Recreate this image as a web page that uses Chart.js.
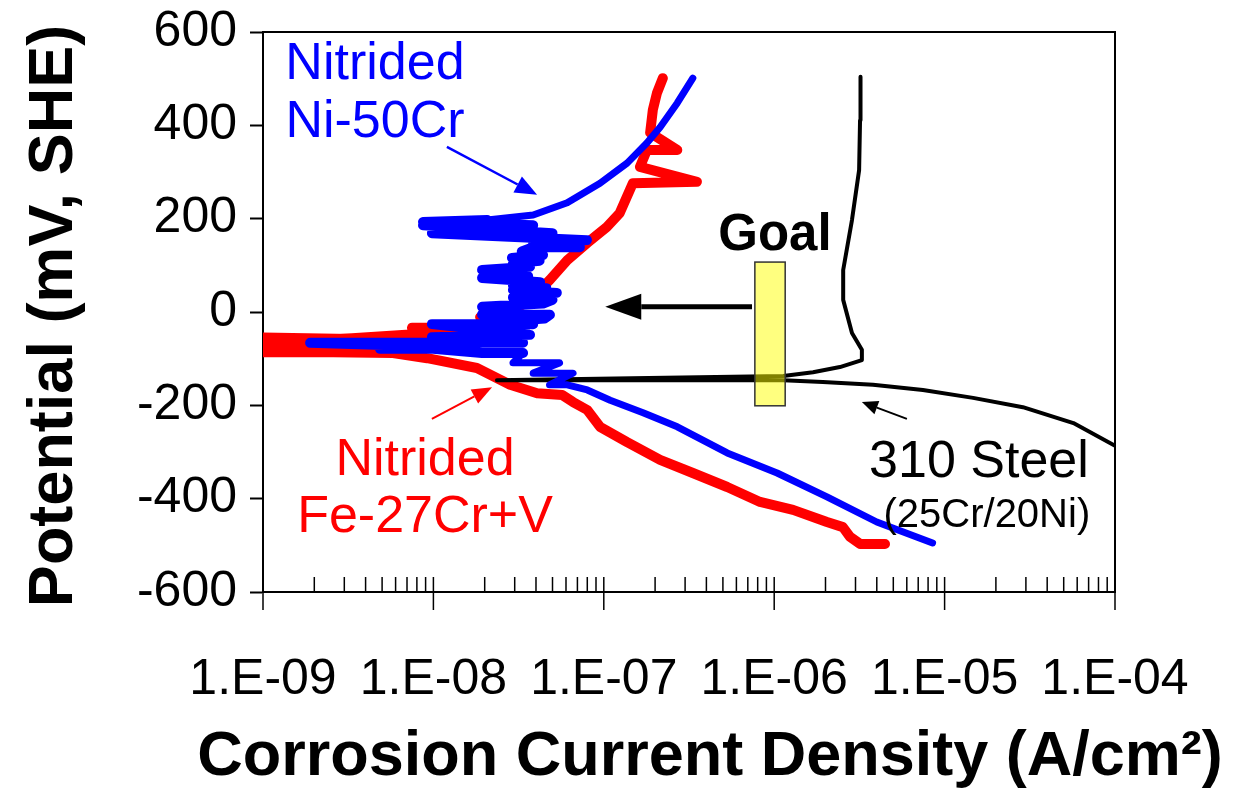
<!DOCTYPE html>
<html>
<head>
<meta charset="utf-8">
<script src="https://cdn.jsdelivr.net/npm/chart.js@4.4.1/dist/chart.umd.min.js"></script>
<style>
    html, body { margin: 0; padding: 0; background: #fff; }
    #wrap { width: 1233px; height: 789px; position: relative; }
</style>
</head>
<body>
<div id="wrap"><canvas id="polarisation"></canvas></div>
<script>
const FONT = '"Liberation Sans", Arial, sans-serif'

// axis ticks
const xTickLabels = ['1.E-09', '1.E-08', '1.E-07', '1.E-06', '1.E-05', '1.E-04']
const xDecades = [1e-9, 1e-8, 1e-7, 1e-6, 1e-5, 1e-4]
const yTickValues = [-600, -400, -200, 0, 200, 400, 600]

// Nitrided Ni-50Cr (blue), scan from cathodic end upwards
const niCrCurrent = [8.5e-6, 4.0e-6, 2.04e-6, 1.04e-6, 5.3e-7, 2.7e-7, 1.7e-7, 1.09e-7, 8.0e-8, 6.1e-8,
    4.8e-8, 6.6e-8, 3.85e-8, 5.5e-8, 2.93e-8, 3.36e-8, 1.93e-8, 9.95e-9, 4.86e-9, 1.25e-8,
    1.89e-9, 3.36e-8, 9.8e-9, 3.69e-8, 9.8e-9, 3.85e-8, 2.93e-8, 4.5e-8, 4.83e-8, 1.93e-8,
    3.3e-8, 2.82e-8, 1.93e-8, 4.4e-8, 5.0e-8, 2.93e-8, 5.3e-8, 2.93e-8, 4.6e-8, 2.93e-8,
    4.23e-8, 1.93e-8, 3.6e-8, 2.93e-8, 1.93e-8, 3.69e-8, 2.93e-8, 4.2e-8, 2.89e-8, 4.4e-8,
    3.3e-8, 3.85e-8, 7.24e-8, 3.85e-8, 7.96e-8, 9.8e-9, 5.0e-8, 8.69e-9, 3.85e-8, 8.69e-9,
    2.07e-8, 3.85e-8, 6.1e-8, 9.5e-8, 1.37e-7, 1.79e-7, 2.14e-7, 2.7e-7, 3.33e-7]
const niCrPotential = [-495, -450, -396, -345, -302, -246, -216, -189, -167, -156,
    -156, -131, -131, -109, -109, -88, -88, -79, -79, -75,
    -66, -66, -54, -49, -26, -26, -19, -14, -6, -6,
    2, 11, 11, 18, 26, 31, 41, 47, 51, 57,
    64, 73, 76, 82, 90, 97, 104, 110, 116, 122,
    130, 139, 139, 147, 154, 169, 169, 186, 186, 193,
    197, 208, 234, 276, 319, 362, 396, 448, 501]

// Nitrided Fe-27Cr+V (red)
const feCrCurrent = [4.47e-6, 3.19e-6, 2.79e-6, 2.53e-6, 2.04e-6, 1.29e-6, 8.26e-7, 5.3e-7, 3.33e-7, 2.14e-7,
    1.37e-7, 9.5e-8, 8.0e-8, 6.6e-8, 5.7e-8, 4.06e-8, 2.82e-8, 1.8e-8, 9.2e-9, 5.79e-9,
    2.58e-9, 8e-10, 8e-10, 7.3e-9, 8e-10, 9.95e-9, 7.49e-9, 2.24e-8, 1.88e-8, 2.93e-8,
    2.82e-8, 3.69e-8, 4.83e-8, 6.1e-8, 8.0e-8, 1.04e-7, 1.24e-7, 1.48e-7, 3.52e-7, 1.63e-7,
    1.79e-7, 2.7e-7, 1.87e-7, 1.94e-7, 2.05e-7, 2.22e-7]
const feCrPotential = [-497, -497, -482, -461, -450, -424, -407, -375, -345, -317,
    -279, -246, -210, -193, -178, -174, -156, -120, -99, -88,
    -86, -86, -54, -60, -71, -45, -34, -34, -11, -11,
    0, 26, 69, 111, 148, 182, 212, 276, 279, 311,
    347, 347, 384, 433, 469, 501]

// 310 Steel (black)
const steelCurrent = [1.03e-4, 5.7e-5, 2.88e-5, 1.47e-5, 7.46e-6, 3.8e-6, 1.93e-6, 1.13e-6, 2.36e-8, 1.13e-6,
    1.69e-6, 2.43e-6, 3.27e-6, 3.27e-6, 2.86e-6, 2.54e-6, 2.54e-6, 2.86e-6, 3.15e-6, 3.19e-6, 3.21e-6]
const steelPotential = [-289, -238, -204, -184, -167, -156, -150, -146, -146, -137,
    -129, -118, -103, -81, -45, 26, 90, 197, 304, 411, 504]

// goal window
const goalCurrent = [7.7e-7, 1.16e-6]
const goalPotential = [-201, 107]

function toPoints(xs, ys) {
    return xs.map((x, i) => ({ x, y: ys[i] }))
}

function arrow(ctx, x1, y1, x2, y2, width, head, half, color) {
    const a = Math.atan2(y2 - y1, x2 - x1)
    const bx = x2 - head * Math.cos(a)
    const by = y2 - head * Math.sin(a)
    ctx.strokeStyle = color
    ctx.fillStyle = color
    ctx.lineWidth = width
    ctx.lineCap = 'butt'
    ctx.beginPath()
    ctx.moveTo(x1, y1)
    ctx.lineTo(bx, by)
    ctx.stroke()
    ctx.beginPath()
    ctx.moveTo(x2, y2)
    ctx.lineTo(bx + half * Math.sin(a), by - half * Math.cos(a))
    ctx.lineTo(bx - half * Math.sin(a), by + half * Math.cos(a))
    ctx.closePath()
    ctx.fill()
}

const extras = {
    id: 'extras',
    afterDatasetsDraw(chart) {
        const { ctx, chartArea: area, scales: { x, y } } = chart
        const px = v => x.getPixelForValue(v)
        const py = v => y.getPixelForValue(v)
        ctx.save()

        // frame top + right
        ctx.strokeStyle = '#000'
        ctx.lineWidth = 2
        ctx.beginPath()
        ctx.moveTo(area.left, area.top)
        ctx.lineTo(area.right, area.top)
        ctx.lineTo(area.right, area.bottom)
        ctx.stroke()

        // log ticks on the x axis
        ctx.lineWidth = 1.5
        xDecades.forEach((d, i) => {
            const xp = px(d)
            ctx.beginPath()
            ctx.moveTo(xp, area.bottom - 15)
            ctx.lineTo(xp, area.bottom + 18)
            ctx.stroke()
            if (i === xDecades.length - 1) return
            for (let m = 2; m <= 9; m++) {
                const xm = px(m * d)
                ctx.beginPath()
                ctx.moveTo(xm, area.bottom - 15)
                ctx.lineTo(xm, area.bottom)
                ctx.stroke()
            }
        })

        // goal box
        const gx = px(goalCurrent[0]), gy = py(goalPotential[1])
        const gw = px(goalCurrent[1]) - gx, gh = py(goalPotential[0]) - gy
        ctx.fillStyle = 'rgba(255,255,0,0.5)'
        ctx.fillRect(gx, gy, gw, gh)
        ctx.strokeStyle = '#333'
        ctx.lineWidth = 1.5
        ctx.strokeRect(gx, gy, gw, gh)

        // arrows
        arrow(ctx, px(1.2e-8), py(354), px(4.06e-8), py(251), 2.5, 22, 9, '#0000ff')
        arrow(ctx, px(9.8e-9), py(-229), px(2.21e-8), py(-161), 2, 20, 8, '#ff0000')
        arrow(ctx, px(7.41e-7), py(11), px(1.02e-7), py(11), 5, 36, 13, '#000')
        arrow(ctx, px(6.01e-6), py(-229), px(3.27e-6), py(-193), 2, 16, 7, '#000')

        // labels
        ctx.textAlign = 'center'
        ctx.textBaseline = 'alphabetic'
        ctx.font = `52px ${FONT}`
        ctx.fillStyle = '#0000ff'
        ctx.fillText('Nitrided', px(4.54e-9), py(499))
        ctx.fillText('Ni-50Cr', px(4.54e-9), py(375))
        ctx.fillStyle = '#ff0000'
        ctx.fillText('Nitrided', px(8.93e-9), py(-349))
        ctx.fillText('Fe-27Cr+V', px(8.93e-9), py(-471))
        ctx.fillStyle = '#000'
        ctx.fillText('310 Steel', px(1.59e-5), py(-354))
        ctx.font = `40px ${FONT}`
        ctx.fillText('(25Cr/20Ni)', px(1.77e-5), py(-461))
        ctx.font = `bold 51px ${FONT}`
        ctx.fillText('Goal', px(1.01e-6), py(133))

        // axis titles
        ctx.font = `bold 63px ${FONT}`
        ctx.fillText('Corrosion Current Density (A/cm²)', 710, 775)
        ctx.save()
        ctx.translate(72, 316)
        ctx.rotate(-Math.PI / 2)
        ctx.fillText('Potential (mV, SHE)', 0, 0)
        ctx.restore()

        ctx.restore()
    }
}

// thicker strokes where the scan is noisy around the corrosion potential
const noisy = (lo, hi, thick, thin) => ({
    borderWidth: c => {
        const a = c.p0.parsed.y, b = c.p1.parsed.y
        return a > lo && a < hi && b > lo && b < hi ? thick : thin
    }
})

const line = (data, color, width) => ({
    data,
    borderColor: color,
    backgroundColor: color,
    borderWidth: width,
    showLine: true,
    pointRadius: 0,
    clip: 0
})

new Chart(document.getElementById('polarisation'), {
    type: 'scatter',
    data: {
        datasets: [
            {
                label: 'Nitrided Ni-50Cr',
                ...line(toPoints(niCrCurrent, niCrPotential), '#0000ff', 7),
                segment: noisy(-100, 200, 10, 7)
            },
            { label: '310 Steel', ...line(toPoints(steelCurrent, steelPotential), '#000000', 4) },
            { label: 'Nitrided Fe-27Cr+V', ...line(toPoints(feCrCurrent, feCrPotential), '#ff0000', 10) }
        ]
    },
    options: {
        responsive: true,
        maintainAspectRatio: false,
        animation: false,
        layout: { padding: { top: 32, right: 118, left: 0, bottom: 0 } },
        elements: { line: { borderCapStyle: 'round', borderJoinStyle: 'round', tension: 0 } },
        plugins: { legend: { display: false }, tooltip: { enabled: false } },
        scales: {
            x: {
                type: 'logarithmic',
                min: 1e-9,
                max: 1e-4,
                afterFit: s => {
                    s.height = 197
                    s.paddingLeft = 0
                    s.paddingRight = 0
                },
                grid: { display: false, drawTicks: false },
                border: { display: true, color: '#000', width: 2 },
                ticks: {
                    autoSkip: false,
                    maxRotation: 0,
                    padding: 58,
                    color: '#000',
                    font: { family: FONT, size: 50 },
                    callback: v => {
                        const e = Math.log10(v)
                        const r = Math.round(e)
                        return Math.abs(e - r) < 1e-6 ? xTickLabels[r + 9] : ''
                    }
                }
            },
            y: {
                min: yTickValues[0],
                max: yTickValues[yTickValues.length - 1],
                afterFit: s => {
                    s.width = 263
                    s.paddingTop = 0
                    s.paddingBottom = 0
                },
                grid: { drawOnChartArea: false, drawTicks: true, tickLength: 13, tickColor: '#000', tickWidth: 2 },
                border: { display: true, color: '#000', width: 2 },
                ticks: {
                    stepSize: 200,
                    padding: 13,
                    color: '#000',
                    font: { family: FONT, size: 50 },
                    callback: v => String(v)
                }
            }
        }
    },
    plugins: [extras]
})
</script>
</body>
</html>
